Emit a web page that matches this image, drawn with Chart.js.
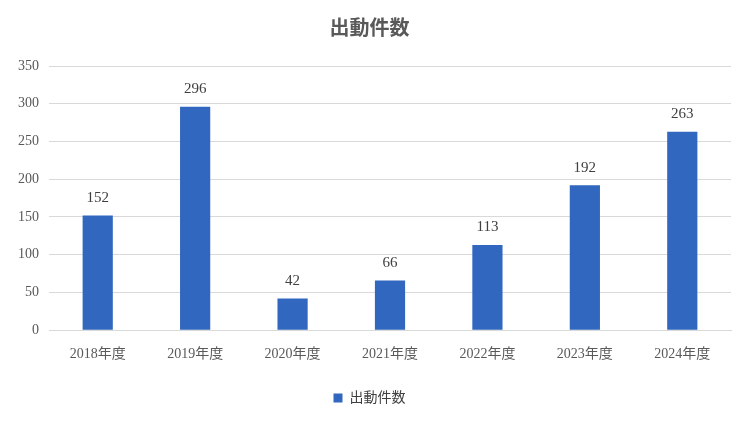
<!DOCTYPE html>
<html>
<head>
<meta charset="utf-8">
<script src="https://cdn.jsdelivr.net/npm/chart.js@4"></script>
<style>
  body { margin: 0; background: #fff; }
  #wrap { width: 745px; height: 423px; }
</style>
</head>
<body>
<div id="wrap"><canvas id="myChart"></canvas></div>
<script>
const categories = ["2018年度", "2019年度", "2020年度", "2021年度", "2022年度", "2023年度", "2024年度"];
const counts = [152, 296, 42, 66, 113, 192, 263];
const seriesName = "出動件数";

const fontFam = "'Liberation Serif', 'Noto Sans CJK JP', serif";

// etiquetas de valor encima de cada barra
const valueLabels = {
  id: "valueLabels",
  afterDatasetsDraw(chart) {
    const ctx = chart.ctx;
    const meta = chart.getDatasetMeta(0);
    ctx.save();
    ctx.font = "15px " + fontFam;
    ctx.fillStyle = "#404040";
    ctx.textAlign = "center";
    ctx.textBaseline = "bottom";
    meta.data.forEach((bar, i) => {
      ctx.fillText(counts[i], bar.x, bar.y - 10);
    });
    ctx.restore();
  }
};

new Chart(document.getElementById("myChart"), {
  type: "bar",
  data: {
    labels: categories,
    datasets: [{
      label: seriesName,
      data: counts,
      backgroundColor: "#3167be",
      categoryPercentage: 1,
      barPercentage: 0.31
    }]
  },
  options: {
    responsive: true,
    maintainAspectRatio: false,
    animation: false,
    layout: { padding: { left: 8, right: 14, top: 8, bottom: 8 } },
    plugins: {
      title: {
        display: true,
        text: seriesName,
        color: "#595959",
        font: { family: fontFam, size: 20 },
        padding: { top: 10, bottom: 24 }
      },
      legend: {
        position: "bottom",
        labels: {
          color: "#404040",
          font: { family: fontFam, size: 14 },
          boxWidth: 9,
          boxHeight: 9,
          padding: 20
        }
      },
      tooltip: { enabled: false }
    },
    scales: {
      y: {
        min: 0,
        max: 350,
        ticks: { stepSize: 50, color: "#595959", font: { family: fontFam, size: 14 }, padding: 10 },
        grid: { color: "#d9d9d9", drawTicks: false },
        border: { display: false }
      },
      x: {
        ticks: { color: "#595959", font: { family: fontFam, size: 14 }, padding: 8 },
        grid: { display: false },
        border: { color: "#d9d9d9" }
      }
    }
  },
  plugins: [valueLabels]
});
</script>
</body>
</html>
